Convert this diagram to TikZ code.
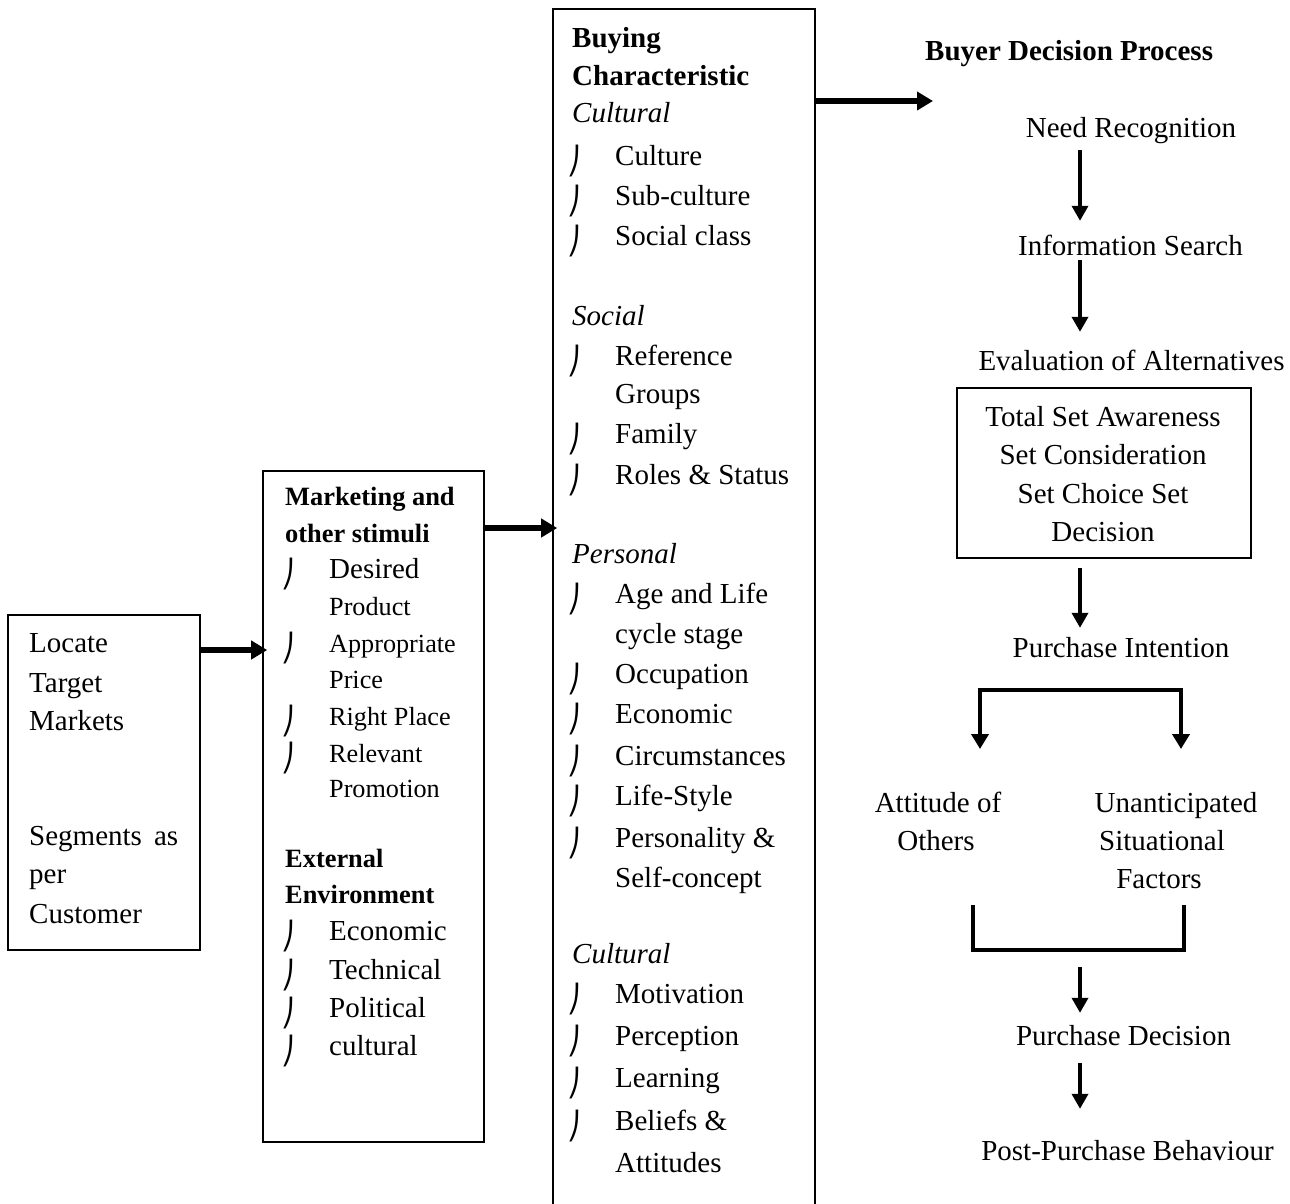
\documentclass[tikz,border=0pt]{standalone}
\usepackage{fontspec}
\setmainfont{Liberation Serif}
\newfontfamily\djv{DejaVu Sans}
\usetikzlibrary{arrows.meta}
\begin{document}
\begin{tikzpicture}[x=1pt,y=-1pt,
  box/.style={draw, line width=1.6pt, inner sep=0pt},
  txt/.style={anchor=base west, inner sep=0pt, font=\fontsize{29}{35}\selectfont},
  sml/.style={anchor=base west, inner sep=0pt, font=\fontsize{26.2}{32}\selectfont},
  hdr/.style={anchor=base west, inner sep=0pt, font=\fontsize{29}{35}\selectfont\bfseries},
  shdr/.style={anchor=base west, inner sep=0pt, font=\fontsize{26.4}{32}\selectfont\bfseries},
  ital/.style={anchor=base west, inner sep=0pt, font=\fontsize{29}{35}\selectfont\itshape},
  ctr/.style={anchor=base, inner sep=0pt, text height=20pt, text depth=6pt, font=\fontsize{29}{35}\selectfont},
  blt/.style={anchor=base west, inner sep=0pt, yshift=-5pt, font=\djv\fontsize{27}{27}\selectfont},
  harr/.style={line width=6pt, -{Triangle[length=16pt,width=18pt]}},
  varr/.style={line width=3.5pt, -{Triangle[length=15pt,width=16pt]}},
  brk/.style={line width=4pt}
]
\useasboundingbox (0,0) rectangle (1290,1203);

% ---------- boxes ----------
\node[box, minimum width=192pt, minimum height=335pt] (b1) at (104,782.5) {};
\node[box, minimum width=221pt, minimum height=671pt] (b2) at (373.5,806.5) {};
\node[box, minimum width=262pt, minimum height=1216pt] (b3) at (684,617) {};
\node[box, line width=2.2pt, minimum width=294pt, minimum height=170pt] (ev) at (1104,473) {};

% ---------- box 1 ----------
\node[txt] (l1) at (29,652) {Locate};
\node[txt] (l2) at (29,692) {Target};
\node[txt] (l3) at (29,730) {Markets};
\node[txt] (l4) at (29,845) {\makebox[149pt][s]{Segments as}};
\node[txt] (l5) at (29,883) {per};
\node[txt] (l6) at (29,923) {Customer};

% ---------- box 2 ----------
\node[shdr] (m1) at (285,505) {Marketing and};
\node[shdr] (m2) at (285,542) {other stimuli};
\node[txt]  (m3) at (329,578) {Desired};
\node[sml]  (m4) at (329,615) {Product};
\node[sml]  (m5) at (329,652) {Appropriate};
\node[sml]  (m6) at (329,688) {Price};
\node[sml]  (m7) at (329,725) {Right Place};
\node[sml]  (m8) at (329,762) {Relevant};
\node[sml]  (m9) at (329,797) {Promotion};
\node[shdr] (x1) at (285,867) {External};
\node[shdr] (x2) at (285,903) {Environment};
\node[txt]  (x3) at (329,940) {Economic};
\node[txt]  (x4) at (329,979) {Technical};
\node[txt]  (x5) at (329,1017) {Political};
\node[txt]  (x6) at (329,1055) {cultural};
\foreach \yy [count=\i] in {578,652,725,762,940,979,1017,1055}
  \node[blt] (mb\i) at (281,\yy) {⎠};

% ---------- box 3 ----------
\node[hdr]  (h1) at (572,47) {Buying};
\node[hdr]  (h2) at (572,85) {Characteristic};
\node[ital] (h3) at (572,122) {Cultural};
\node[ital] (h4) at (572,325) {Social};
\node[ital] (h5) at (572,563) {Personal};
\node[ital] (h6) at (572,963) {Cultural};
\foreach \yy/\lbl [count=\i] in {165/Culture,205/Sub-culture,245/Social class,
  365/Reference,403/Groups,443/Family,484/Roles \& Status,
  603/Age and Life,643/cycle stage,683/Occupation,723/Economic,765/Circumstances,
  805/Life-Style,847/Personality \&,887/Self-concept,
  1003/Motivation,1045/Perception,1087/Learning,1130/Beliefs \&,1172/Attitudes}
  \node[txt] (c\i) at (615,\yy) {\lbl};
\foreach \yy [count=\i] in {165,205,245,365,443,484,603,683,723,765,805,847,1003,1045,1087,1130}
  \node[blt] (cb\i) at (567,\yy) {⎠};

% ---------- right column ----------
\node[hdr] (bdp) at (925,60) {Buyer Decision Process};
\coordinate (bdpin) at (933,101);
\coordinate (ax) at (1080,0);
\node[ctr] (nr) at (1131,137) {Need Recognition};
\node[ctr] (is) at (1130.5,255) {Information Search};
\node[ctr] (ea) at (1131.5,370) {Evaluation of Alternatives};
\node[ctr] (e1) at (1103,426) {Total Set Awareness};
\node[ctr] (e2) at (1103,464) {Set Consideration};
\node[ctr] (e3) at (1103,503) {Set Choice Set};
\node[ctr] (e4) at (1103,541) {Decision};
\node[ctr] (pi) at (1121,657) {Purchase Intention};
\node[ctr] (ao1) at (938,812) {Attitude of};
\node[ctr] (ao2) at (936,850) {Others};
\node[ctr] (uf1) at (1176,812) {Unanticipated};
\node[ctr] (uf2) at (1162,850) {Situational};
\node[ctr] (uf3) at (1159,888) {Factors};
\node[ctr] (pd) at (1123.5,1045) {Purchase Decision};
\node[ctr] (ppb) at (1127.5,1160) {Post-Purchase Behaviour};

% bracket corners
\coordinate (tl) at (980,690);
\coordinate (tr) at (1181,690);
\coordinate (al) at (980,749);
\coordinate (ar) at (1181,749);
\coordinate (bl) at (973,907);
\coordinate (br) at (1184,907);
\coordinate (bm) at (1080,950);

% ---------- connectors ----------
\draw[harr] (b1.east |- 0,650) -- ([xshift=5pt]b2.west |- 0,650);
\draw[harr] (b2.east |- 0,528) -- ([xshift=5pt]b3.west |- 0,528);
\draw[harr] (b3.east |- bdpin) -- (bdpin);

\draw[varr, shorten <=7pt, shorten >=14pt] (nr.south -| ax) -- (is.north -| ax);
\draw[varr, shorten <=-1pt, shorten >=18pt] (is.south -| ax) -- (ea.north -| ax);
\draw[varr, shorten <=9pt, shorten >=9pt] (ev.south -| ax) -- (pi.north -| ax);
\draw[brk, {Triangle[length=15pt,width=17pt]}-{Triangle[length=15pt,width=17pt]}]
  (al) -- (tl) -- (tr) -- (ar);
\draw[brk, line cap=rect] (bl) |- (bm) -| (br);
\draw[varr, shorten <=17pt, shorten >=12pt] (bm) -- (pd.north -| ax);
\draw[varr, shorten <=12pt, shorten >=31pt] (pd.south -| ax) -- (ppb.north -| ax);
\end{tikzpicture}
\end{document}
